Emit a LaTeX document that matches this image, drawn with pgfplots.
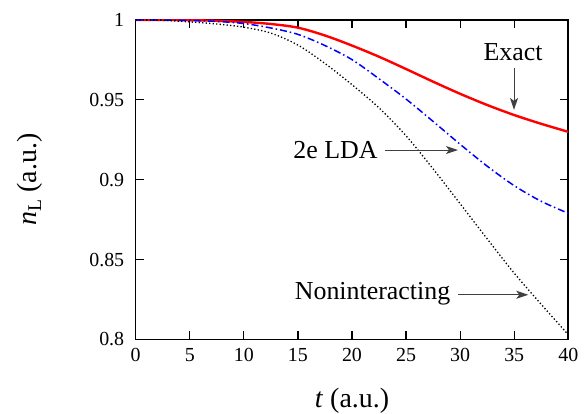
\documentclass[border=0pt]{standalone}
\usepackage{fontspec}
\setmainfont{Liberation Serif}
\usepackage{pgfplots}
\pgfplotsset{compat=1.18}
\usetikzlibrary{arrows.meta}
\begin{document}
\begin{tikzpicture}
\begin{axis}[
  scale only axis, width=432.6bp, height=319.5bp,
  xmin=0, xmax=40, ymin=0.8, ymax=1,
  xtick={0,5,...,40}, ytick={0.8,0.85,0.9,0.95,1},
  xticklabels={0,5,10,15,20,25,30,35,40},
  yticklabels={0.8,0.85,0.9,0.95,1},
  tick align=inside, major tick length=8bp,
  axis line style={line width=1.6bp},
  every tick/.style={black, line width=1.2bp},
  tick label style={font=\fontsize{20}{24}\selectfont},
  xticklabel style={yshift=-5bp},
  yticklabel style={xshift=-8bp},
  /pgf/number format/assume math mode=true,
  xlabel={\textit{t} (a.u.)},
  ylabel={\textit{n}\textsubscript{L} (a.u.)},
  label style={font=\fontsize{28}{32}\selectfont},
  xlabel style={at={(axis description cs:0.5,-0.1909)}, anchor=center},
  ylabel style={at={(axis description cs:-0.244,0.5)}, anchor=center},
]
\addplot[red, line width=2.4bp, smooth] coordinates {
(0,1.0000) (2.5,1.0000) (5,0.9999) (7.5,0.9995) (10,0.9988) (12.5,0.9975)
(15,0.9952) (17.5,0.9903) (20,0.9840) (22.5,0.9770) (25,0.9693) (27.5,0.9614)
(30,0.9538) (32.5,0.9468) (35,0.9405) (37.5,0.9350) (40,0.9300)};
\addplot[blue, line width=1.5bp, smooth, dash pattern=on 7bp off 3bp on 1.5bp off 3bp] coordinates {
(0,1.0000) (2.5,1.0000) (5,0.9997) (7.5,0.9991) (10,0.9978) (12.5,0.9950)
(15,0.9910) (17.5,0.9840) (20,0.9752) (22.5,0.9632) (25,0.9505) (27.5,0.9365)
(30,0.9222) (32.5,0.9085) (35,0.8963) (37.5,0.8865) (40,0.8790)};
\addplot[black, line width=1.3bp, smooth, dash pattern=on 1.3bp off 2.2bp] coordinates {
(0,1.0000) (2.5,0.9998) (5,0.9988) (7.5,0.9975) (10,0.9955) (12.5,0.9918)
(15,0.9843) (17.5,0.9728) (20,0.9595) (22.5,0.9450) (25,0.9275) (27.5,0.9068)
(30,0.8850) (32.5,0.8630) (35,0.8415) (37.5,0.8220) (40,0.8030)};
\node[font=\fontsize{26}{30}\selectfont] at (axis cs:34.9,0.98) {Exact};
\draw[black!75, line width=1bp, -{Stealth[length=12bp,width=8bp,inset=3bp]}] (axis cs:34.98,0.9698) -- (axis cs:34.98,0.9437);
\node[font=\fontsize{26}{30}\selectfont] at (axis cs:18.47,0.9186) {2e LDA};
\draw[black!75, line width=1bp, -{Stealth[length=12bp,width=8bp,inset=3bp]}] (axis cs:23.05,0.9186) -- (axis cs:29.8,0.9186);
\node[font=\fontsize{26}{30}\selectfont] at (axis cs:21.9,0.8285) {Noninteracting};
\draw[black!75, line width=1bp, -{Stealth[length=12bp,width=8bp,inset=3bp]}] (axis cs:29.83,0.828) -- (axis cs:36.3,0.828);
\end{axis}
\pgfresetboundingbox
\path[use as bounding box] (current axis.south west) ++(-135.7bp,-74.5bp) rectangle ++(584bp,414bp);
\end{tikzpicture}
\end{document}
